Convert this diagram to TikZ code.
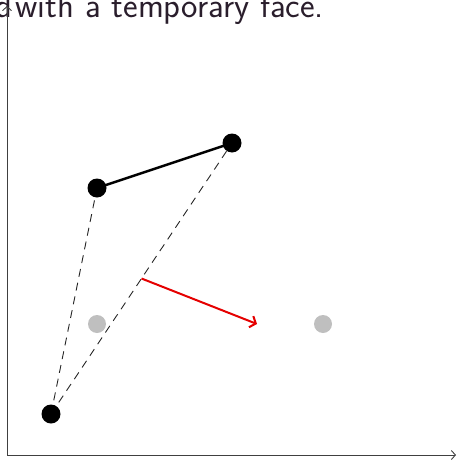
\documentclass[tikz,border=0pt]{standalone}
\usepackage{tikz}
\usetikzlibrary{calc,arrows.meta}
\definecolor{titlecol}{RGB}{42,30,44}
\begin{document}
\begin{tikzpicture}[x=1pt,y=-1pt,
  dot/.style={circle,fill=black,inner sep=0pt,minimum size=19pt},
  ghost/.style={circle,fill=black!25,inner sep=0pt,minimum size=18pt},
  axis/.style={draw=black!75,line width=0.9pt,-{Straight Barb[length=4pt,width=9pt]}},
  guide/.style={draw=black!85,line width=0.9pt,dash pattern=on 8pt off 6pt},
  move/.style={draw=red!90!black,line width=2pt,-{Straight Barb[length=5pt,width=12pt,line width=2pt]}}]
\useasboundingbox (0,0) rectangle (458,466);
\node[anchor=base west,inner sep=0pt,text=titlecol,font=\sffamily\fontsize{34.8}{40}\selectfont] (title) at (-5,17.5) {d\hspace{-7.5pt} with a temporary face.};
\coordinate (O) at (7,455);
\coordinate (Y) at (7,6);
\coordinate (X) at (456,455);
\draw[axis] (O) -- (Y);
\draw[axis] (O) -- (X);
\node[ghost] (g1) at (97,324) {};
\node[ghost] (g2) at (323,324) {};
\coordinate (A) at (51,414);
\coordinate (B) at (97,188);
\coordinate (C) at (232,143);
\draw[guide] (A) -- (B);
\draw[guide] (A) -- (C);
\draw[line width=2.4pt] (B) -- (C);
\node[dot] (a) at (A) {};
\node[dot] (b) at (B) {};
\node[dot] (c) at (C) {};
\coordinate (M) at ($(A)!0.5!(C)$);
\coordinate (E) at (257,324);
\draw[move] (M) -- (E);
\end{tikzpicture}
\end{document}
